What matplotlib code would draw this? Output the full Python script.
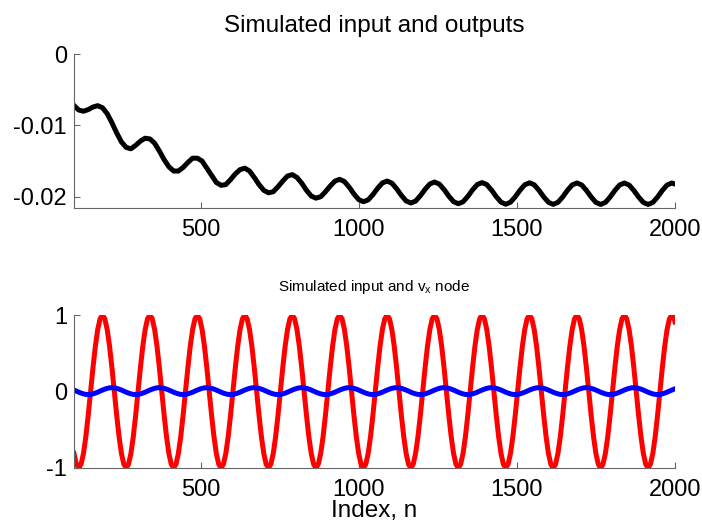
import numpy as np
import matplotlib
matplotlib.use("Agg")
import matplotlib.pyplot as plt

plt.rcParams['font.family'] = ['Liberation Sans', 'DejaVu Sans']
plt.rcParams['mathtext.default'] = 'regular'

# sample index of the output, read every 15 samples off the picture
index_n = list(range(100, 2000, 15)) + [2000]
# the fast input and node traces were read every 7.5 samples
index_fine = list(np.arange(100, 2000, 7.5)) + [2000]

# top panel: simulated output (black)
output_y = [
    -0.00722, -0.00785, -0.00802, -0.00779, -0.00743, -0.00724, -0.00753, -0.00836, -0.00964, -0.01106,
    -0.01232, -0.01309, -0.01328, -0.0128, -0.0122, -0.0118, -0.0119, -0.0125, -0.0136, -0.0148,
    -0.0158, -0.0164, -0.0164, -0.0159, -0.0152, -0.0146, -0.0146, -0.0150, -0.0160, -0.0170,
    -0.0180, -0.0184, -0.0183, -0.0176, -0.0168, -0.0162, -0.0160, -0.0164, -0.0173, -0.0183,
    -0.0191, -0.01945, -0.0193, -0.0186, -0.0178, -0.0171, -0.0169, -0.0173, -0.0181, -0.0191,
    -0.0199, -0.0202, -0.0200, -0.0193, -0.0185, -0.01781, -0.01756, -0.01787, -0.01866, -0.01961,
    -0.02040, -0.02070, -0.02044, -0.01971, -0.01881, -0.01807, -0.01780, -0.01810, -0.01888, -0.01981,
    -0.02059, -0.02088, -0.02061, -0.01986, -0.01896, -0.01821, -0.01794, -0.01823, -0.01899, -0.01992,
    -0.02069, -0.02098, -0.02071, -0.01996, -0.01904, -0.01829, -0.01802, -0.01830, -0.01907, -0.01999,
    -0.02076, -0.02105, -0.02077, -0.02001, -0.01909, -0.01833, -0.01805, -0.01833, -0.01910, -0.02002,
    -0.02078, -0.02107, -0.02079, -0.02003, -0.01911, -0.01835, -0.01807, -0.01835, -0.01911, -0.02003,
    -0.02079, -0.02108, -0.02080, -0.02004, -0.01912, -0.01836, -0.01808, -0.01836, -0.01912, -0.02004,
    -0.02080, -0.02108, -0.02080, -0.02004, -0.01912, -0.01836, -0.01808,
    -0.01822,
]

# bottom panel: input (red), one row per period
input_u = [
    -0.81, -0.95, -1, -0.95, -0.81, -0.59, -0.31, 0, 0.31, 0.59, 0.81, 0.95, 1, 0.95, 0.81, 0.59, 0.31, 0, -0.31, -0.59,
    -0.81, -0.95, -1, -0.95, -0.81, -0.59, -0.31, 0, 0.31, 0.59, 0.81, 0.95, 1, 0.95, 0.81, 0.59, 0.31, 0, -0.31, -0.59,
    -0.81, -0.95, -1, -0.95, -0.81, -0.59, -0.31, 0, 0.31, 0.59, 0.81, 0.95, 1, 0.95, 0.81, 0.59, 0.31, 0, -0.31, -0.59,
    -0.81, -0.95, -1, -0.95, -0.81, -0.59, -0.31, 0, 0.31, 0.59, 0.81, 0.95, 1, 0.95, 0.81, 0.59, 0.31, 0, -0.31, -0.59,
    -0.81, -0.95, -1, -0.95, -0.81, -0.59, -0.31, 0, 0.31, 0.59, 0.81, 0.95, 1, 0.95, 0.81, 0.59, 0.31, 0, -0.31, -0.59,
    -0.81, -0.95, -1, -0.95, -0.81, -0.59, -0.31, 0, 0.31, 0.59, 0.81, 0.95, 1, 0.95, 0.81, 0.59, 0.31, 0, -0.31, -0.59,
    -0.81, -0.95, -1, -0.95, -0.81, -0.59, -0.31, 0, 0.31, 0.59, 0.81, 0.95, 1, 0.95, 0.81, 0.59, 0.31, 0, -0.31, -0.59,
    -0.81, -0.95, -1, -0.95, -0.81, -0.59, -0.31, 0, 0.31, 0.59, 0.81, 0.95, 1, 0.95, 0.81, 0.59, 0.31, 0, -0.31, -0.59,
    -0.81, -0.95, -1, -0.95, -0.81, -0.59, -0.31, 0, 0.31, 0.59, 0.81, 0.95, 1, 0.95, 0.81, 0.59, 0.31, 0, -0.31, -0.59,
    -0.81, -0.95, -1, -0.95, -0.81, -0.59, -0.31, 0, 0.31, 0.59, 0.81, 0.95, 1, 0.95, 0.81, 0.59, 0.31, 0, -0.31, -0.59,
    -0.81, -0.95, -1, -0.95, -0.81, -0.59, -0.31, 0, 0.31, 0.59, 0.81, 0.95, 1, 0.95, 0.81, 0.59, 0.31, 0, -0.31, -0.59,
    -0.81, -0.95, -1, -0.95, -0.81, -0.59, -0.31, 0, 0.31, 0.59, 0.81, 0.95, 1, 0.95, 0.81, 0.59, 0.31, 0, -0.31, -0.59,
    -0.81, -0.95, -1, -0.95, -0.81, -0.59, -0.31, 0, 0.31, 0.59, 0.81, 0.95, 1, 0.95,
    0.91,
]

# bottom panel: v_x node (blue), one row per period
node_vx = [
    0.019, 0.005, -0.009, -0.021, -0.031, -0.038, -0.040, -0.038, -0.031, -0.021, -0.009, 0.005, 0.019, 0.031, 0.041, 0.048, 0.050, 0.048, 0.041, 0.031,
    0.019, 0.005, -0.009, -0.021, -0.031, -0.038, -0.040, -0.038, -0.031, -0.021, -0.009, 0.005, 0.019, 0.031, 0.041, 0.048, 0.050, 0.048, 0.041, 0.031,
    0.019, 0.005, -0.009, -0.021, -0.031, -0.038, -0.040, -0.038, -0.031, -0.021, -0.009, 0.005, 0.019, 0.031, 0.041, 0.048, 0.050, 0.048, 0.041, 0.031,
    0.019, 0.005, -0.009, -0.021, -0.031, -0.038, -0.040, -0.038, -0.031, -0.021, -0.009, 0.005, 0.019, 0.031, 0.041, 0.048, 0.050, 0.048, 0.041, 0.031,
    0.019, 0.005, -0.009, -0.021, -0.031, -0.038, -0.040, -0.038, -0.031, -0.021, -0.009, 0.005, 0.019, 0.031, 0.041, 0.048, 0.050, 0.048, 0.041, 0.031,
    0.019, 0.005, -0.009, -0.021, -0.031, -0.038, -0.040, -0.038, -0.031, -0.021, -0.009, 0.005, 0.019, 0.031, 0.041, 0.048, 0.050, 0.048, 0.041, 0.031,
    0.019, 0.005, -0.009, -0.021, -0.031, -0.038, -0.040, -0.038, -0.031, -0.021, -0.009, 0.005, 0.019, 0.031, 0.041, 0.048, 0.050, 0.048, 0.041, 0.031,
    0.019, 0.005, -0.009, -0.021, -0.031, -0.038, -0.040, -0.038, -0.031, -0.021, -0.009, 0.005, 0.019, 0.031, 0.041, 0.048, 0.050, 0.048, 0.041, 0.031,
    0.019, 0.005, -0.009, -0.021, -0.031, -0.038, -0.040, -0.038, -0.031, -0.021, -0.009, 0.005, 0.019, 0.031, 0.041, 0.048, 0.050, 0.048, 0.041, 0.031,
    0.019, 0.005, -0.009, -0.021, -0.031, -0.038, -0.040, -0.038, -0.031, -0.021, -0.009, 0.005, 0.019, 0.031, 0.041, 0.048, 0.050, 0.048, 0.041, 0.031,
    0.019, 0.005, -0.009, -0.021, -0.031, -0.038, -0.040, -0.038, -0.031, -0.021, -0.009, 0.005, 0.019, 0.031, 0.041, 0.048, 0.050, 0.048, 0.041, 0.031,
    0.019, 0.005, -0.009, -0.021, -0.031, -0.038, -0.040, -0.038, -0.031, -0.021, -0.009, 0.005, 0.019, 0.031, 0.041, 0.048, 0.050, 0.048, 0.041, 0.031,
    0.019, 0.005, -0.009, -0.021, -0.031, -0.038, -0.040, -0.038, -0.031, -0.021, -0.009, 0.005, 0.019, 0.031,
    0.035,
]

x_ticks = [500, 1000, 1500, 2000]
top_yticks = [-0.02, -0.01, 0]
top_ylabels = ['-0.02', '-0.01', '0']
bottom_yticks = [-1, 0, 1]
bottom_ylabels = ['-1', '0', '1']


def style_axes(ax):
    for side in ['top', 'right']:
        ax.spines[side].set_visible(False)
    for side in ['left', 'bottom']:
        ax.spines[side].set_color('0.4')
        ax.spines[side].set_linewidth(0.8)
    ax.tick_params(direction='in', length=4.3, width=0.8, color='0.4',
                   labelsize=17, labelcolor='black')
    ax.tick_params(axis='y', pad=5)
    ax.tick_params(axis='x', pad=8)
    ax.set_xlim(100, 2000)
    ax.set_xticks(x_ticks)


fig = plt.figure(figsize=(7.02, 5.26), dpi=100)

ax1 = fig.add_axes([0.1054, 0.6051, 0.8561, 0.2922])
ax1.plot(index_n, output_y, color='black', linewidth=3.6)
style_axes(ax1)
ax1.set_ylim(-0.02154, 0)
ax1.set_yticks(top_yticks)
ax1.set_yticklabels(top_ylabels)
ax1.set_title("Simulated input and outputs", fontsize=17.5, pad=16)

ax2 = fig.add_axes([0.1054, 0.1103, 0.8561, 0.2908])
ax2.plot(index_fine, input_u, color='#ff0000', linewidth=3.6)
ax2.plot(index_fine, node_vx, color='#0000ff', linewidth=3.6)
style_axes(ax2)
ax2.set_ylim(-1, 1)
ax2.set_yticks(bottom_yticks)
ax2.set_yticklabels(bottom_ylabels)
ax2.set_title("Simulated input and v$_x$ node", fontsize=11, pad=17.5)
ax2.set_xlabel("Index, n", fontsize=17.5, labelpad=-0.5)

fig.savefig("out.png", dpi=100)
